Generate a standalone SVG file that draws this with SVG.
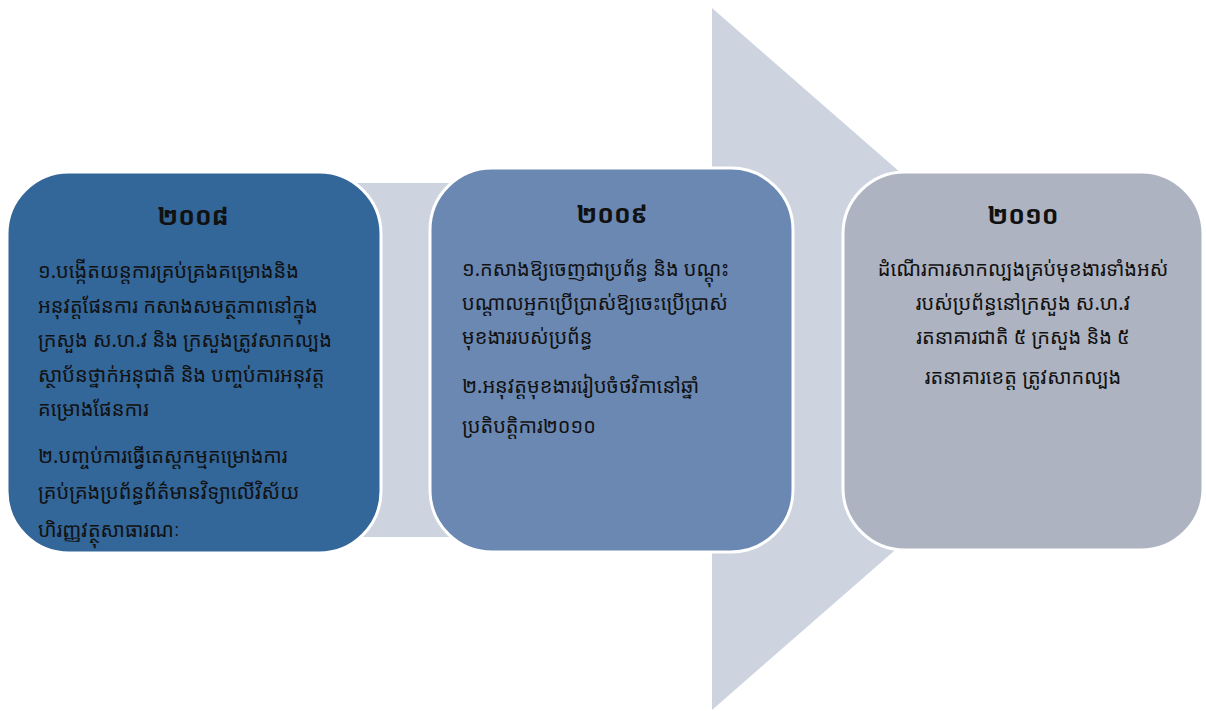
<svg xmlns="http://www.w3.org/2000/svg" width="1206" height="711" viewBox="0 0 1206 711">
<style>
.box{stroke:#ffffff;stroke-width:3}
.t{font-family:"Noto Sans Khmer","Khmer OS","Khmer OS System","Noto Sans","DejaVu Sans",sans-serif;font-size:20px;fill:#111111}
.h{font-family:"Noto Sans Khmer","Khmer OS","Noto Sans","DejaVu Sans",sans-serif;font-size:25px;font-weight:bold;fill:#111111;text-anchor:middle}
.c{text-anchor:middle}
</style>
<rect width="1206" height="711" fill="#ffffff"/>
<g id="connectors">
<polygon points="60,183 712,183 712,8 1114,359 712,710 712,537 60,537" fill="#CDD4E0"/>
</g>
<g id="node-2008">
<rect class="box" x="7" y="172" width="374" height="381" rx="62" ry="62" fill="#336699"/>
<text class="h" x="193" y="225">២០០៨</text>
<text class="t" x="38" y="278">១.បង្កើតយន្តការគ្រប់គ្រងគម្រោងនិង</text>
<text class="t" x="38" y="313">អនុវត្តផែនការ កសាងសមត្ថភាពនៅក្នុង</text>
<text class="t" x="38" y="347">ក្រសួង ស.ហ.វ និង ក្រសួងត្រូវសាកល្បង</text>
<text class="t" x="38" y="382">ស្ថាប័នថ្នាក់អនុជាតិ និង បញ្ចប់ការអនុវត្ត</text>
<text class="t" x="38" y="416">គម្រោងផែនការ</text>
<text class="t" x="38" y="463">២.បញ្ចប់ការធ្វើតេស្តកម្មគម្រោងការ</text>
<text class="t" x="38" y="499">គ្រប់គ្រងប្រព័ន្ធព័ត៌មានវិទ្យាលើវិស័យ</text>
<text class="t" x="38" y="537">ហិរញ្ញវត្ថុសាធារណៈ</text>
</g>
<g id="node-2009">
<rect class="box" x="430" y="168" width="363" height="384" rx="62" ry="62" fill="#6B88B3"/>
<text class="h" x="612" y="223">២០០៩</text>
<text class="t" x="462" y="276">១.កសាងឱ្យចេញជាប្រព័ន្ធ និង បណ្តុះ</text>
<text class="t" x="462" y="310">បណ្តាលអ្នកប្រើប្រាស់ឱ្យចេះប្រើប្រាស់</text>
<text class="t" x="462" y="344">មុខងាររបស់ប្រព័ន្ធ</text>
<text class="t" x="462" y="393">២.អនុវត្តមុខងាររៀបចំថវិកានៅឆ្នាំ</text>
<text class="t" x="462" y="433">ប្រតិបត្តិការ២០១០</text>
</g>
<g id="node-2010">
<rect class="box" x="843" y="172" width="360" height="378" rx="62" ry="62" fill="#ADB3C1"/>
<text class="h" x="1023" y="224">២០១០</text>
<text class="t c" x="1023" y="276">ដំណើរការសាកល្បងគ្រប់មុខងារទាំងអស់</text>
<text class="t c" x="1023" y="310">របស់ប្រព័ន្ធនៅក្រសួង ស.ហ.វ</text>
<text class="t c" x="1023" y="344">រតនាគារជាតិ ៥ ក្រសួង និង ៥</text>
<text class="t c" x="1023" y="384">រតនាគារខេត្ត ត្រូវសាកល្បង</text>
</g>
</svg>
